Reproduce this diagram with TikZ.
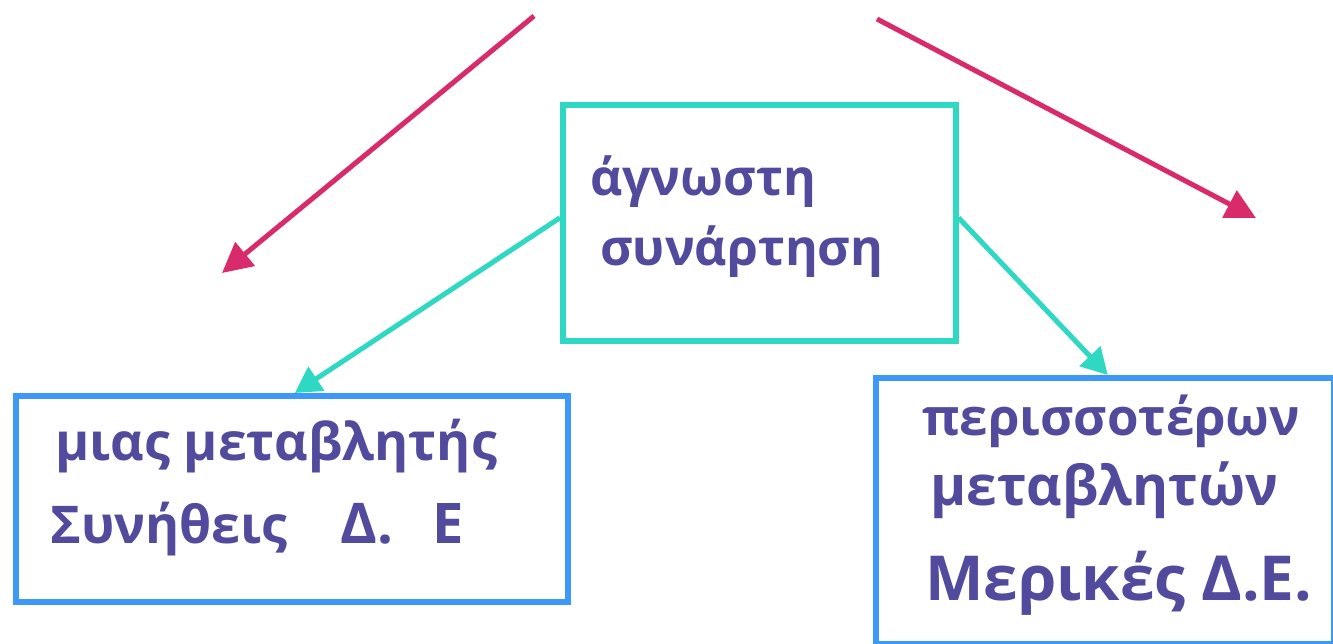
\documentclass[tikz,border=0pt]{standalone}
\usepackage{fontspec}
\setmainfont{Open Sans}
\usetikzlibrary{arrows.meta}
\definecolor{mag}{HTML}{D92B6B}
\definecolor{teal2}{HTML}{2ED8C3}
\definecolor{blue2}{HTML}{3D98F7}
\definecolor{ink}{HTML}{514A9D}
\newcommand{\fs}[1]{\fontsize{#1}{#1}\selectfont\bfseries}
\tikzset{
  boxA/.style={draw=teal2, line width=5.5pt, minimum width=393pt, minimum height=236pt, inner sep=0pt, anchor=north west},
  boxB/.style={draw=blue2, line width=5.5pt, inner sep=0pt, anchor=north west},
  hand/.style={anchor=base west, text=ink, inner sep=0pt},
  magarrow/.style={draw=mag, line width=5pt, -{Triangle[length=30pt,width=30pt]}},
  tealarrow/.style={draw=teal2, line width=5pt, -{Triangle[length=26pt,width=28pt]}}
}
\begin{document}
\begin{tikzpicture}[x=1pt,y=-1pt]
\fill[white] (0,0) rectangle (1333,643);
\useasboundingbox (0,0) rectangle (1333,643);
\node[boxA] (top) at (560,102) {};
\node[boxB, minimum width=552pt, minimum height=206pt] (left) at (13,393) {};
\node[boxB, minimum width=458pt, minimum height=266pt] (right) at (873,375) {};
\node[hand, font=\fs{50}] (t1) at (590,195) {άγνωστη};
\node[hand, font=\fs{50}] (t2) at (600,265) {συνάρτηση};
\node[hand, font=\fs{52}] (l1) at (55,460) {μιας μεταβλητής};
\node[hand, font=\fs{52}] (l2) at (50,543) {Συνήθεις};
\node[hand, font=\fs{56}] (l3) at (340,543) {Δ.\hspace{40pt}Ε};
\node[hand, font=\fs{51}] (r1) at (922,435) {περισσοτέρων};
\node[hand, font=\fs{55}] (r2) at (930,505) {μεταβλητών};
\node[hand, font=\fs{62}] (r3) at (925,600) {Μερικές Δ.Ε.};
\coordinate (ms1) at (534,16);
\coordinate (me1) at (222,273);
\coordinate (ms2) at (877,19);
\coordinate (me2) at (1256,218);
\draw[magarrow] (ms1) -- (me1);
\draw[magarrow] (ms2) -- (me2);
\draw[tealarrow] ([yshift=5pt]top.west) -- ([xshift=3pt]left.north);
\draw[tealarrow] ([yshift=5pt]top.east) -- ([xshift=3pt]right.north);
\end{tikzpicture}
\end{document}
